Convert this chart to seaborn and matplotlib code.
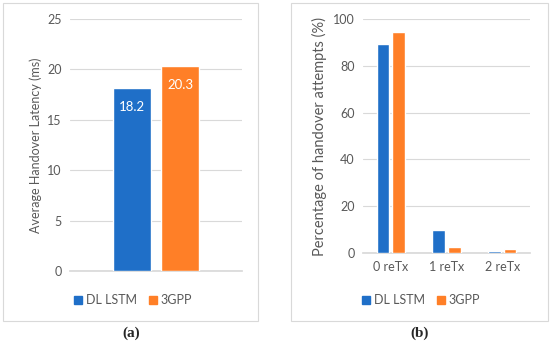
import pandas as pd
import matplotlib.pyplot as plt
import seaborn as sns
from matplotlib.patches import Rectangle

methods = ["DL LSTM", "3GPP"]
latency = [18.2, 20.3]

retx_labels = ["0 reTx", "1 reTx", "2 reTx"]
dl_lstm_pct = [89.2, 9.8, 1.0]
gpp_pct = [94.3, 2.7, 1.5]

BLUE = "#1F6FC8"
ORANGE = "#FF7F27"
GRAY = "#595959"
GRID = "#D9D9D9"

sns.set_theme(style="white")
plt.rcParams["font.family"] = ["Lato", "DejaVu Sans"]

df_a = pd.DataFrame({"cat": [""] * 2, "method": methods, "value": latency})
df_b = pd.DataFrame({
    "cat": retx_labels * 2,
    "method": [methods[0]] * 3 + [methods[1]] * 3,
    "value": dl_lstm_pct + gpp_pct,
})

fig = plt.figure(figsize=(5.5, 3.44), dpi=100)
W, H = 550, 344

def px(x0, y0, x1, y1):
    return [x0 / W, 1 - y1 / H, (x1 - x0) / W, (y1 - y0) / H]

# panel frames
for x0, x1 in [(3, 258), (291, 548)]:
    fig.patches.append(Rectangle((x0 / W, 1 - 321 / H), (x1 - x0) / W, 318 / H,
                                 transform=fig.transFigure, fill=False,
                                 edgecolor="#D9D9D9", linewidth=0.8))

palette = {methods[0]: BLUE, methods[1]: ORANGE}

def style(ax, ticks):
    ax.set_yticks(ticks)
    ax.yaxis.grid(True, color=GRID, linewidth=0.8)
    ax.set_axisbelow(True)
    for s in ["top", "right", "left"]:
        ax.spines[s].set_visible(False)
    ax.spines["bottom"].set_color(GRID)
    ax.spines["bottom"].set_zorder(0.5)
    ax.tick_params(axis="both", length=0, colors=GRAY, labelsize=9, pad=6)
    ax.set_xlabel("")

# (a)
ax1 = fig.add_axes(px(70, 19, 242, 271))
sns.barplot(data=df_a, x="cat", y="value", hue="method", palette=palette,
            width=0.56, gap=0.21, saturation=1, ax=ax1, legend=False)
ax1.set_ylim(0, 25)
style(ax1, range(0, 26, 5))
ax1.set_ylabel("Average Handover Latency (ms)", color=GRAY, fontsize=9)
for cont in ax1.containers:
    ax1.bar_label(cont, fmt="%.1f", label_type="edge", padding=-18,
                  color="white", fontsize=9.5)

# (b)
ax2 = fig.add_axes(px(363, 19, 530, 253))
sns.barplot(data=df_b, x="cat", y="value", hue="method", palette=palette,
            width=0.56, gap=0.2, saturation=1, ax=ax2, legend=False)
ax2.set_ylim(0, 100)
style(ax2, range(0, 101, 20))
ax2.set_ylabel("Percentage of handover attempts (%)", color=GRAY, fontsize=10.5)

handles = [Rectangle((0, 0), 1, 1, color=BLUE), Rectangle((0, 0), 1, 1, color=ORANGE)]
for cx in [133, 421]:
    fig.legend(handles, methods, loc="center", bbox_to_anchor=(cx / W, 1 - 300 / H),
               ncol=2, frameon=False, fontsize=9, handlelength=0.6,
               handleheight=0.6, handletextpad=0.3, columnspacing=1.0,
               labelcolor=GRAY)

fig.text(131 / W, 1 - 333 / H, "(a)", ha="center", va="center", fontsize=11,
         fontweight="bold", family=["Liberation Serif", "DejaVu Serif"])
fig.text(420 / W, 1 - 333 / H, "(b)", ha="center", va="center", fontsize=11,
         fontweight="bold", family=["Liberation Serif", "DejaVu Serif"])

fig.savefig("out.png", dpi=100)
